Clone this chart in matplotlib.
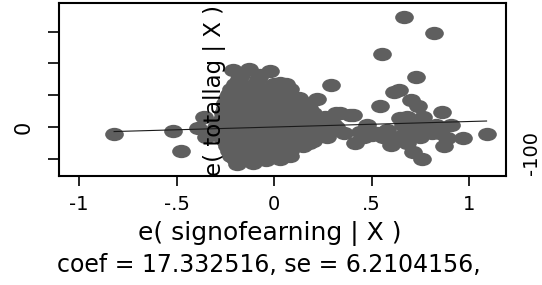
import matplotlib.pyplot as plt
from matplotlib.markers import MarkerStyle
from matplotlib.transforms import Affine2D

plt.rcParams['font.family'] = ['DejaVu Sans']

# residuals (x = e(signofearning|X), y = e(totallag|X))
x_left = [-0.82, -0.516, -0.478, -0.39, -0.36, -0.35]
y_left = [-23, -11, -76, -3, 30, -30]

x_blob = [-0.21, -0.13, -0.02,
          -0.17, -0.07,
          -0.18, -0.08, 0.03,
          -0.20, -0.10, 0.0, 0.06,
          -0.22, -0.14, -0.06, 0.02, 0.08,
          -0.23, -0.15, -0.07, 0.01, 0.08,
          -0.24, -0.16, -0.08, 0.0, 0.07, 0.13,
          -0.25, -0.17, -0.09, -0.02, 0.05, 0.11,
          -0.25, -0.17, -0.09, -0.01, 0.07, 0.14, 0.18,
          -0.26, -0.18, -0.10, -0.02, 0.06, 0.14, 0.20,
          -0.26, -0.18, -0.10, -0.02, 0.06, 0.13, 0.20, 0.26,
          -0.28, -0.20, -0.12, -0.04, 0.04, 0.12, 0.20, 0.28,
          -0.30, -0.22, -0.14, -0.06, 0.02, 0.10, 0.18, 0.25, 0.32,
          -0.28, -0.20, -0.12, -0.04, 0.04, 0.12, 0.20, 0.28,
          -0.27, -0.19, -0.11, -0.03, 0.05, 0.13, 0.21,
          -0.25, -0.17, -0.09, -0.01, 0.07, 0.14, 0.20,
          -0.24, -0.16, -0.08, 0.0, 0.08, 0.15,
          -0.23, -0.15, -0.07, 0.01, 0.08,
          -0.22, -0.14, -0.06, 0.02, 0.08,
          -0.20, -0.12, -0.05, 0.03,
          -0.19, -0.11, -0.04]
y_blob = [180, 182, 176,
          165, 165,
          150, 150, 140,
          135, 135, 135, 135,
          120, 120, 120, 120, 120,
          105, 105, 105, 105, 105,
          90, 90, 90, 90, 90, 90,
          75, 75, 75, 75, 75, 75,
          60, 60, 60, 60, 60, 60, 60,
          45, 45, 45, 45, 45, 45, 45,
          30, 30, 30, 30, 30, 30, 30, 30,
          15, 15, 15, 15, 15, 15, 15, 15,
          0, 0, 0, 0, 0, 0, 0, 0, 0,
          -15, -15, -15, -15, -15, -15, -15, -15,
          -30, -30, -30, -30, -30, -30, -30,
          -45, -45, -45, -45, -45, -45, -45,
          -60, -60, -60, -60, -60, -60,
          -75, -75, -75, -75, -75,
          -90, -90, -90, -90, -90,
          -102, -102, -102, -102,
          -115, -112, -105]

x_right = [0.667, 0.818, 0.555, 0.727, 0.29, 0.222, 0.544, 0.64, 0.615, 0.70,
           0.74, 0.86, 0.91, 1.09, 0.97, 0.87, 0.757, 0.713, 0.646, 0.415,
           0.44, 0.527, 0.61, 0.765, 0.81, 0.886, 0.39, 0.32, 0.236, 0.27,
           0.20, 0.475, 0.70, 0.133, 0.68, 0.34, 0.405, 0.27, 0.18, 0.50,
           0.58, 0.66, 0.73, 0.78, 0.83, 0.60, 0.68, 0.46, 0.56, 0.66,
           0.75, 0.85, 0.36, 0.30]
y_right = [346, 297, 230, 158, 132, 88, 66, 117, 111, 85,
           66, 48, 6, -23, -35, -61, -102, -78, 28, -50,
           -15, -19, -41, 33, -19, -36, 38, 44, 22, -19,
           -41, 6, -3, 86, 33, 43, 38, -30, -50, -25,
           -10, 5, 10, -5, 5, -55, -50, -32, -30, -25,
           -30, -20, -20, 10]

coef = 17.332516
intercept = 0.0

x_all = x_left + x_blob + x_right
y_all = y_left + y_blob + y_right

fig = plt.figure(figsize=(5.42, 2.85), dpi=100)
ax = fig.add_axes([59 / 542, 1 - 176 / 285, (506 - 59) / 542, (176 - 3) / 285])

dot = MarkerStyle('o', transform=Affine2D().scale(1.4, 1.0))
ax.plot(x_all, y_all, ls='none', marker=dot, ms=9.6, color='#5f5f5f', mec='none', zorder=2)

xmin, xmax = min(x_all), max(x_all)
ax.plot([xmin, xmax], [intercept + coef * xmin, intercept + coef * xmax],
        color='#1a1a1a', lw=0.8, zorder=3)

ax.set_xlim(-1.1026, 1.1897)
ax.set_ylim(-154, 390)
ax.set_xticks([-1, -0.5, 0, 0.5, 1])
ax.set_xticklabels(['-1', '-.5', '0', '.5', '1'], fontsize=14)
ax.set_yticks([-100, 0, 100, 200, 300])
ax.set_yticklabels(['', '0', '', '', ''], fontsize=15, rotation=90, va='center')
ax.tick_params(axis='x', direction='out', length=7, width=1.2, pad=7)
ax.tick_params(axis='y', direction='out', length=8, width=1.2, pad=10)
for s in ax.spines.values():
    s.set_linewidth(1.5)

fig.text(270 / 542, 1 - 240 / 285, 'e( signofearning | X )', fontsize=18,
         ha='center', va='baseline')
fig.text(57 / 542, 1 - 272 / 285, 'coef = 17.332516, se = 6.2104156,', fontsize=17,
         ha='left', va='baseline')
fig.text(215 / 542, 1 - 91 / 285, 'e( totallag | X )', fontsize=16.5, rotation=90,
         ha='center', va='center')
fig.text(532 / 542, 1 - 153 / 285, '-100', fontsize=14, rotation=90,
         ha='center', va='center')

fig.savefig('out.png', dpi=100)
